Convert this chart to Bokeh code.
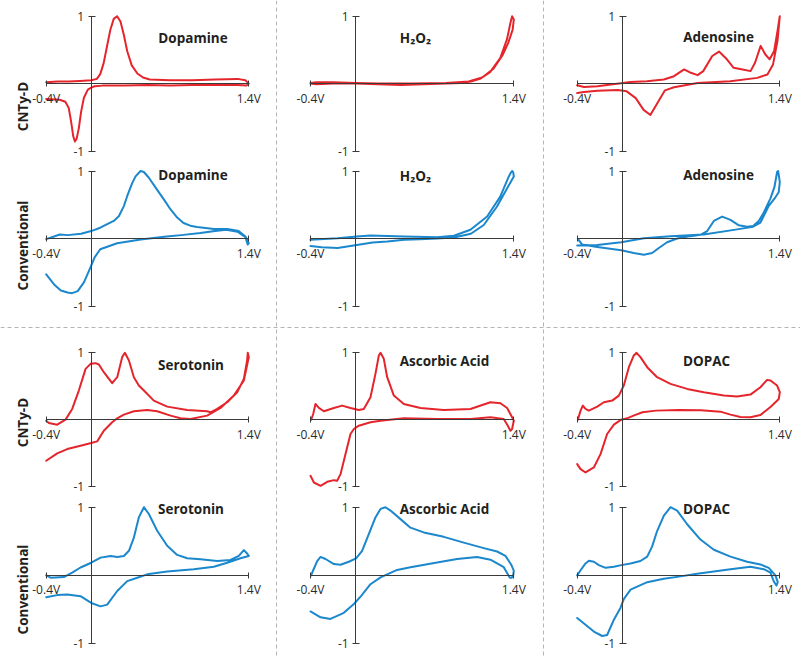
import math
from bokeh.plotting import figure
from bokeh.models import Range1d, LinearAxis, FixedTicker, Label, Span
from bokeh.embed import file_html
from bokeh.resources import INLINE

# ---------------- data: potential (V) and normalized current ----------------
X_TICKS = [-0.4, 1.4]
X_TICK_LABELS = ["-0.4V", "1.4V"]
Y_TICKS = [-1, 1]
Y_TICK_LABELS = ["-1", "1"]
ROW_LABELS = ["CNTy-D", "Conventional", "CNTy-D", "Conventional"]
TITLES = [["Dopamine", "H\u2082O\u2082", "Adenosine"],
          ["Dopamine", "H\u2082O\u2082", "Adenosine"],
          ["Serotonin", "Ascorbic Acid", "DOPAC"],
          ["Serotonin", "Ascorbic Acid", "DOPAC"]]

DOPAMINE_CNTY_V = [-0.4, -0.3, -0.2, -0.1, 0.0, 0.05, 0.08, 0.11, 0.14, 0.17, 0.2, 0.23, 0.26, 0.29, 0.32, 0.36, 0.41, 0.46, 0.52, 0.7, 0.9, 1.1, 1.3, 1.37, 1.4,
                   1.38, 1.3, 1.1, 0.9, 0.7, 0.5, 0.3, 0.1, 0.03, 0.0, -0.03, -0.065, -0.09, -0.11, -0.13, -0.145, -0.16, -0.18, -0.2, -0.23, -0.28, -0.4]
DOPAMINE_CNTY_I = [0.02, 0.03, 0.03, 0.04, 0.05, 0.07, 0.14, 0.3, 0.55, 0.8, 0.96, 1.0, 0.92, 0.72, 0.48, 0.27, 0.15, 0.09, 0.06, 0.05, 0.05, 0.06, 0.07, 0.05, 0.0,
                   -0.03, -0.02, -0.02, -0.02, -0.03, -0.02, -0.03, -0.03, -0.04, -0.06, -0.09, -0.21, -0.42, -0.66, -0.82, -0.86, -0.78, -0.55, -0.36, -0.27, -0.24, -0.23]

DOPAMINE_CONV_V = [-0.4, -0.33, -0.28, -0.21, -0.09, 0.0, 0.08, 0.2, 0.245, 0.29, 0.32, 0.364, 0.394, 0.438, 0.468, 0.512, 0.586, 0.645, 0.705, 0.764, 0.82, 0.88, 0.94, 1.09, 1.21, 1.31, 1.37, 1.4, 1.39,
                   1.37, 1.3, 1.2, 1.1, 0.97, 0.8, 0.67, 0.44, 0.23, 0.08, 0.03, 0.01, -0.02, -0.065, -0.12, -0.17, -0.21, -0.27, -0.33, -0.4]
DOPAMINE_CONV_I = [-0.01, 0.03, 0.06, 0.05, 0.07, 0.11, 0.16, 0.26, 0.33, 0.48, 0.63, 0.82, 0.92, 1.0, 0.985, 0.9, 0.72, 0.58, 0.43, 0.31, 0.23, 0.19, 0.17, 0.14, 0.14, 0.11, 0.03, -0.07, -0.09,
                   0.02, 0.1, 0.13, 0.11, 0.08, 0.05, 0.03, -0.015, -0.07, -0.16, -0.28, -0.36, -0.48, -0.65, -0.78, -0.81, -0.8, -0.77, -0.68, -0.53]

H2O2_CNTY_V = [-0.4, -0.35, -0.2, 0.0, 0.2, 0.4, 0.6, 0.8, 0.93, 1.02, 1.1, 1.19, 1.28, 1.34, 1.37, 1.385,
               1.4, 1.39, 1.35, 1.3, 1.22, 1.12, 1.0, 0.8, 0.5, 0.2, 0.0, -0.2, -0.35, -0.4]
H2O2_CNTY_I = [0.0, -0.01, 0.0, 0.0, -0.01, -0.02, -0.01, 0.0, 0.01, 0.03, 0.07, 0.17, 0.38, 0.66, 0.9, 1.0,
               0.95, 0.8, 0.6, 0.42, 0.22, 0.09, 0.03, 0.01, 0.0, 0.0, 0.01, 0.02, 0.02, 0.01]

H2O2_CONV_V = [-0.4, -0.3, -0.16, 0.01, 0.15, 0.28, 0.43, 0.57, 0.72, 0.87, 1.02, 1.134, 1.25, 1.34, 1.4, 1.395, 1.385,
               1.376, 1.356, 1.28, 1.164, 1.016, 0.87, 0.72, 0.43, 0.13, 0.01, -0.16, -0.4]
H2O2_CONV_I = [-0.11, -0.13, -0.14, -0.095, -0.06, -0.045, -0.02, -0.01, 0.0, 0.015, 0.07, 0.2, 0.47, 0.74, 0.92, 0.98, 1.0,
               0.98, 0.92, 0.62, 0.325, 0.13, 0.04, 0.02, 0.03, 0.045, 0.03, 0.005, -0.02]

ADENOSINE_CNTY_V = [-0.4, -0.34, -0.22, -0.1, -0.01, 0.07, 0.22, 0.37, 0.46, 0.55, 0.61, 0.67, 0.72, 0.8, 0.86, 0.93, 0.99, 1.07, 1.14, 1.18, 1.23, 1.27, 1.31, 1.35, 1.38, 1.4,
                    1.38, 1.34, 1.29, 1.2, 0.96, 0.67, 0.46, 0.38, 0.33, 0.25, 0.19, 0.12, 0.04, -0.04, -0.22, -0.34, -0.4]
ADENOSINE_CNTY_I = [-0.025, -0.05, -0.04, -0.015, 0.005, 0.025, 0.035, 0.06, 0.11, 0.21, 0.16, 0.125, 0.185, 0.41, 0.475, 0.36, 0.235, 0.21, 0.185, 0.31, 0.56, 0.435, 0.36, 0.485, 0.785, 1.0,
                    0.64, 0.285, 0.135, 0.085, 0.035, 0.01, -0.055, -0.1, -0.24, -0.465, -0.39, -0.215, -0.115, -0.095, -0.105, -0.125, -0.14]

ADENOSINE_CONV_V = [-0.394, -0.356, -0.222, -0.009, 0.103, 0.192, 0.266, 0.325, 0.399, 0.488, 0.607, 0.695, 0.755, 0.814, 0.888, 0.962, 1.036, 1.11, 1.163, 1.213, 1.258, 1.317, 1.352, 1.376, 1.385,
                    1.4, 1.39, 1.361, 1.302, 1.228, 1.163, 1.021, 0.725, 0.429, 0.192, -0.009, -0.222, -0.4]
ADENOSINE_CONV_I = [-0.005, -0.09, -0.125, -0.175, -0.215, -0.24, -0.215, -0.14, -0.055, 0.0, 0.035, 0.055, 0.11, 0.26, 0.325, 0.275, 0.195, 0.175, 0.185, 0.26, 0.385, 0.595, 0.76, 0.985, 1.0,
                    0.835, 0.685, 0.61, 0.485, 0.235, 0.175, 0.135, 0.06, 0.035, 0.005, -0.055, -0.095, -0.105]

SEROTONIN_CNTY_V = [-0.4, -0.376, -0.302, -0.228, -0.169, -0.11, -0.05, -0.006, 0.038, 0.068, 0.112, 0.186, 0.231, 0.275, 0.299, 0.335, 0.379, 0.423, 0.468, 0.556, 0.675, 0.853, 1.03, 1.06, 1.119, 1.208, 1.297, 1.356, 1.385, 1.391,
                    1.4, 1.356, 1.267, 1.149, 1.03, 0.882, 0.793, 0.705, 0.586, 0.497, 0.379, 0.29, 0.231, 0.186, 0.112, 0.053, 0.0, -0.095, -0.213, -0.302, -0.4]
SEROTONIN_CNTY_I = [-0.015, -0.05, -0.075, 0.0, 0.16, 0.435, 0.76, 0.835, 0.845, 0.825, 0.71, 0.545, 0.635, 0.935, 1.0, 0.885, 0.635, 0.51, 0.435, 0.285, 0.195, 0.145, 0.125, 0.11, 0.16, 0.26, 0.41, 0.61, 0.885, 1.0,
                    0.935, 0.585, 0.36, 0.175, 0.06, 0.01, 0.02, 0.06, 0.125, 0.145, 0.125, 0.075, 0.02, -0.04, -0.165, -0.325, -0.35, -0.39, -0.44, -0.505, -0.615]

SEROTONIN_CONV_V = [-0.4, -0.361, -0.243, -0.169, -0.095, 0.0, 0.083, 0.172, 0.231, 0.29, 0.335, 0.379, 0.423, 0.468, 0.512, 0.586, 0.675, 0.764, 0.853, 0.971, 1.119, 1.237, 1.311, 1.356, 1.385, 1.4,
                    1.326, 1.208, 1.089, 0.912, 0.675, 0.497, 0.409, 0.32, 0.231, 0.142, 0.083, 0.0, -0.095, -0.213, -0.302, -0.4]
SEROTONIN_CONV_I = [0.0, -0.035, -0.025, 0.04, 0.115, 0.185, 0.26, 0.285, 0.27, 0.285, 0.36, 0.555, 0.85, 1.0, 0.9, 0.655, 0.435, 0.3, 0.25, 0.235, 0.21, 0.225, 0.285, 0.37, 0.32, 0.285,
                    0.25, 0.185, 0.125, 0.09, 0.055, 0.015, -0.035, -0.085, -0.23, -0.43, -0.455, -0.405, -0.305, -0.28, -0.29, -0.32]

ASCORBIC_CNTY_V = [-0.394, -0.376, -0.356, -0.326, -0.282, -0.193, -0.12, -0.046, 0.028, 0.072, 0.131, 0.175, 0.205, 0.22, 0.249, 0.279, 0.338, 0.426, 0.574, 0.78, 1.016, 1.193, 1.282, 1.341, 1.385, 1.4,
                   1.385, 1.37, 1.347, 1.311, 1.193, 1.016, 0.721, 0.426, 0.22, 0.131, 0.028, -0.016, -0.046, -0.09, -0.134, -0.164, -0.193, -0.252, -0.311, -0.37, -0.4]
ASCORBIC_CNTY_I = [0.0, 0.085, 0.235, 0.175, 0.125, 0.175, 0.21, 0.175, 0.145, 0.16, 0.335, 0.685, 0.96, 1.0, 0.91, 0.635, 0.36, 0.235, 0.175, 0.145, 0.16, 0.26, 0.245, 0.175, 0.035, -0.015,
                   -0.14, -0.165, -0.09, 0.01, 0.035, 0.01, 0.01, 0.02, -0.015, -0.04, -0.09, -0.14, -0.215, -0.515, -0.815, -0.915, -0.905, -0.93, -0.99, -0.94, -0.84]

DOPAC_CNTY_V = [-0.394, -0.37, -0.35, -0.326, -0.296, -0.222, -0.163, -0.089, -0.03, 0.014, 0.059, 0.103, 0.127, 0.162, 0.222, 0.31, 0.429, 0.577, 0.725, 0.903, 1.021, 1.139, 1.228, 1.287, 1.317, 1.376, 1.4,
                1.391, 1.317, 1.228, 1.139, 1.05, 0.962, 0.873, 0.7, 0.5, 0.3, 0.18, 0.1, 0.044, -0.009, -0.074, -0.134, -0.193, -0.252, -0.326, -0.37, -0.4]
DOPAC_CNTY_I = [0.0, 0.135, 0.21, 0.16, 0.135, 0.195, 0.26, 0.285, 0.36, 0.51, 0.785, 0.96, 1.0, 0.935, 0.785, 0.635, 0.535, 0.46, 0.41, 0.36, 0.345, 0.375, 0.485, 0.595, 0.585, 0.51, 0.41,
                0.31, 0.19, 0.07, 0.035, 0.04, 0.075, 0.12, 0.14, 0.145, 0.135, 0.11, 0.06, 0.02, 0.0, -0.075, -0.215, -0.515, -0.715, -0.79, -0.74, -0.665]

ASCORBIC_CONV_V = [-0.394, -0.376, -0.341, -0.311, -0.267, -0.193, -0.134, -0.061, 0.004, 0.057, 0.116, 0.175, 0.22, 0.264, 0.308, 0.397, 0.485, 0.603, 0.78, 0.957, 1.134, 1.252, 1.326, 1.376, 1.4,
                   1.394, 1.38, 1.365, 1.347, 1.311, 1.193, 1.075, 0.898, 0.721, 0.485, 0.367, 0.279, 0.22, 0.131, 0.049, -0.016, -0.105, -0.223, -0.311, -0.4]
ASCORBIC_CONV_I = [0.0, 0.075, 0.21, 0.27, 0.24, 0.165, 0.155, 0.2, 0.25, 0.36, 0.606, 0.85, 0.975, 1.0, 0.95, 0.825, 0.7, 0.63, 0.565, 0.48, 0.4, 0.35, 0.285, 0.16, 0.07,
                   -0.01, -0.035, -0.035, 0.015, 0.12, 0.23, 0.27, 0.24, 0.19, 0.12, 0.08, 0.015, -0.03, -0.13, -0.3, -0.42, -0.55, -0.64, -0.615, -0.53]

DOPAC_CONV_V = [-0.4, -0.37, -0.326, -0.296, -0.252, -0.208, -0.148, -0.074, -0.009, 0.074, 0.162, 0.222, 0.266, 0.31, 0.37, 0.429, 0.488, 0.577, 0.695, 0.814, 0.962, 1.11, 1.228, 1.302, 1.361, 1.382,
                1.37, 1.347, 1.317, 1.258, 1.139, 0.962, 0.666, 0.518, 0.37, 0.222, 0.074, 0.014, -0.015, -0.074, -0.134, -0.178, -0.252, -0.326, -0.4]
DOPAC_CONV_I = [0.0, 0.075, 0.175, 0.215, 0.2, 0.15, 0.11, 0.125, 0.15, 0.175, 0.21, 0.275, 0.425, 0.65, 0.875, 1.0, 0.95, 0.75, 0.525, 0.375, 0.275, 0.2, 0.16, 0.11, 0.0, -0.1,
                -0.15, -0.09, 0.04, 0.09, 0.125, 0.09, 0.025, -0.015, -0.05, -0.1, -0.21, -0.35, -0.475, -0.65, -0.875, -0.89, -0.825, -0.725, -0.625]

CURVES = [
    [(DOPAMINE_CNTY_V, DOPAMINE_CNTY_I), (H2O2_CNTY_V, H2O2_CNTY_I), (ADENOSINE_CNTY_V, ADENOSINE_CNTY_I)],
    [(DOPAMINE_CONV_V, DOPAMINE_CONV_I), (H2O2_CONV_V, H2O2_CONV_I), (ADENOSINE_CONV_V, ADENOSINE_CONV_I)],
    [(SEROTONIN_CNTY_V, SEROTONIN_CNTY_I), (ASCORBIC_CNTY_V, ASCORBIC_CNTY_I), (DOPAC_CNTY_V, DOPAC_CNTY_I)],
    [(SEROTONIN_CONV_V, SEROTONIN_CONV_I), (ASCORBIC_CONV_V, ASCORBIC_CONV_I), (DOPAC_CONV_V, DOPAC_CONV_I)],
]

# ---------------- layout / style ----------------
RED = "#e4262c"
BLUE = "#1b87cc"
ROW_COLORS = [RED, BLUE, RED, BLUE]
AXIS_COLOR = "#3a3a3a"
FONT = "Open Sans"

W, H = 800, 656
PX0, PY0 = 0, 0            # page offset of the canvas
# page pixel positions of x=-0.4 / x=1.4 for each column
COL_PX = [(45.7, 248.3), (310.0, 513.3), (576.7, 779.3)]
# page pixel positions of y=+1 / y=-1 for each row
ROW_PX = [(15.7, 150.5), (170.5, 305.5), (352.3, 486.0), (506.7, 643.0)]
TITLE_XY = [[(192.5, 37.3), (415.0, 37.3), (718.0, 36.7)],
            [(192.5, 174.3), (415.0, 175.0), (718.0, 174.3)],
            [(190.5, 364.0), (444.0, 360.0), (706.0, 360.0)],
            [(190.5, 508.3), (444.0, 508.3), (706.0, 508.3)]]
ROW_LABEL_Y = [106, 245, 422, 589]

p = figure(width=W, height=H, output_backend="svg", toolbar_location=None,
           x_range=Range1d(PX0, PX0 + W), y_range=Range1d(PY0 + H, PY0),
           x_axis_type=None, y_axis_type=None, min_border=0, title=None,
           outline_line_color=None)
p.grid.visible = False
p.background_fill_color = "white"
p.border_fill_color = "white"

xr = {}
for c, (a, b) in enumerate(COL_PX):
    k = (b - a) / (X_TICKS[1] - X_TICKS[0])
    xr[f"x{c}"] = Range1d(X_TICKS[0] - (a - PX0) / k, X_TICKS[0] + (PX0 + W - a) / k)
yr = {}
for r, (t, bt) in enumerate(ROW_PX):
    k = (bt - t) / (Y_TICKS[1] - Y_TICKS[0])
    yr[f"y{r}"] = Range1d(Y_TICKS[1] - (PY0 + H - t) / k, Y_TICKS[1] + (t - PY0) / k)
p.extra_x_ranges = xr
p.extra_y_ranges = yr

# separators
for loc in (276, 543):
    p.add_layout(Span(location=loc, dimension="height", line_color="#b4b4b4",
                      line_width=1, line_dash="4 3"))
p.add_layout(Span(location=327, dimension="width", line_color="#b4b4b4",
                  line_width=1, line_dash="4 3"))

for r in range(4):
    for c in range(3):
        xn, yn = f"x{c}", f"y{r}"
        xa = LinearAxis(x_range_name=xn, y_range_name=yn, fixed_location=0,
                        bounds=(X_TICKS[0], X_TICKS[1]),
                        ticker=FixedTicker(ticks=X_TICKS),
                        major_label_overrides=dict(zip(X_TICKS, X_TICK_LABELS)))
        ya = LinearAxis(x_range_name=xn, y_range_name=yn, fixed_location=0,
                        bounds=(Y_TICKS[0], Y_TICKS[1]),
                        ticker=FixedTicker(ticks=Y_TICKS),
                        major_label_overrides=dict(zip(Y_TICKS, Y_TICK_LABELS)))
        for ax in (xa, ya):
            ax.axis_line_color = AXIS_COLOR
            ax.axis_line_width = 1
            ax.major_tick_line_color = AXIS_COLOR
            ax.minor_tick_line_color = None
            ax.major_label_text_font = FONT
            ax.major_label_text_font_size = "12px"
            ax.major_label_text_color = "#2a2a2a"
        xa.major_tick_in = 3
        xa.major_tick_out = 3
        xa.major_label_standoff = 3
        ya.major_tick_in = 4
        ya.major_tick_out = 3
        ya.major_label_standoff = 4
        p.add_layout(xa, "below")
        p.add_layout(ya, "left")

        v, i = CURVES[r][c]
        p.line(v, i, x_range_name=xn, y_range_name=yn, line_color=ROW_COLORS[r],
               line_width=2, line_join="round", line_cap="round")

        tx, ty = TITLE_XY[r][c]
        p.add_layout(Label(x=tx, y=ty, text=TITLES[r][c], text_align="center",
                           text_baseline="alphabetic", text_font=FONT,
                           text_font_style="bold", text_font_size="13.5px",
                           text_color="#231f20"))

for r in range(4):
    p.add_layout(Label(x=22.5, y=ROW_LABEL_Y[r], text=ROW_LABELS[r], angle=math.pi / 2,
                       text_align="center", text_baseline="alphabetic", text_font=FONT,
                       text_font_style="bold", text_font_size="13.5px", text_color="#231f20"))

open("out.html", "w").write(file_html(p, INLINE))
